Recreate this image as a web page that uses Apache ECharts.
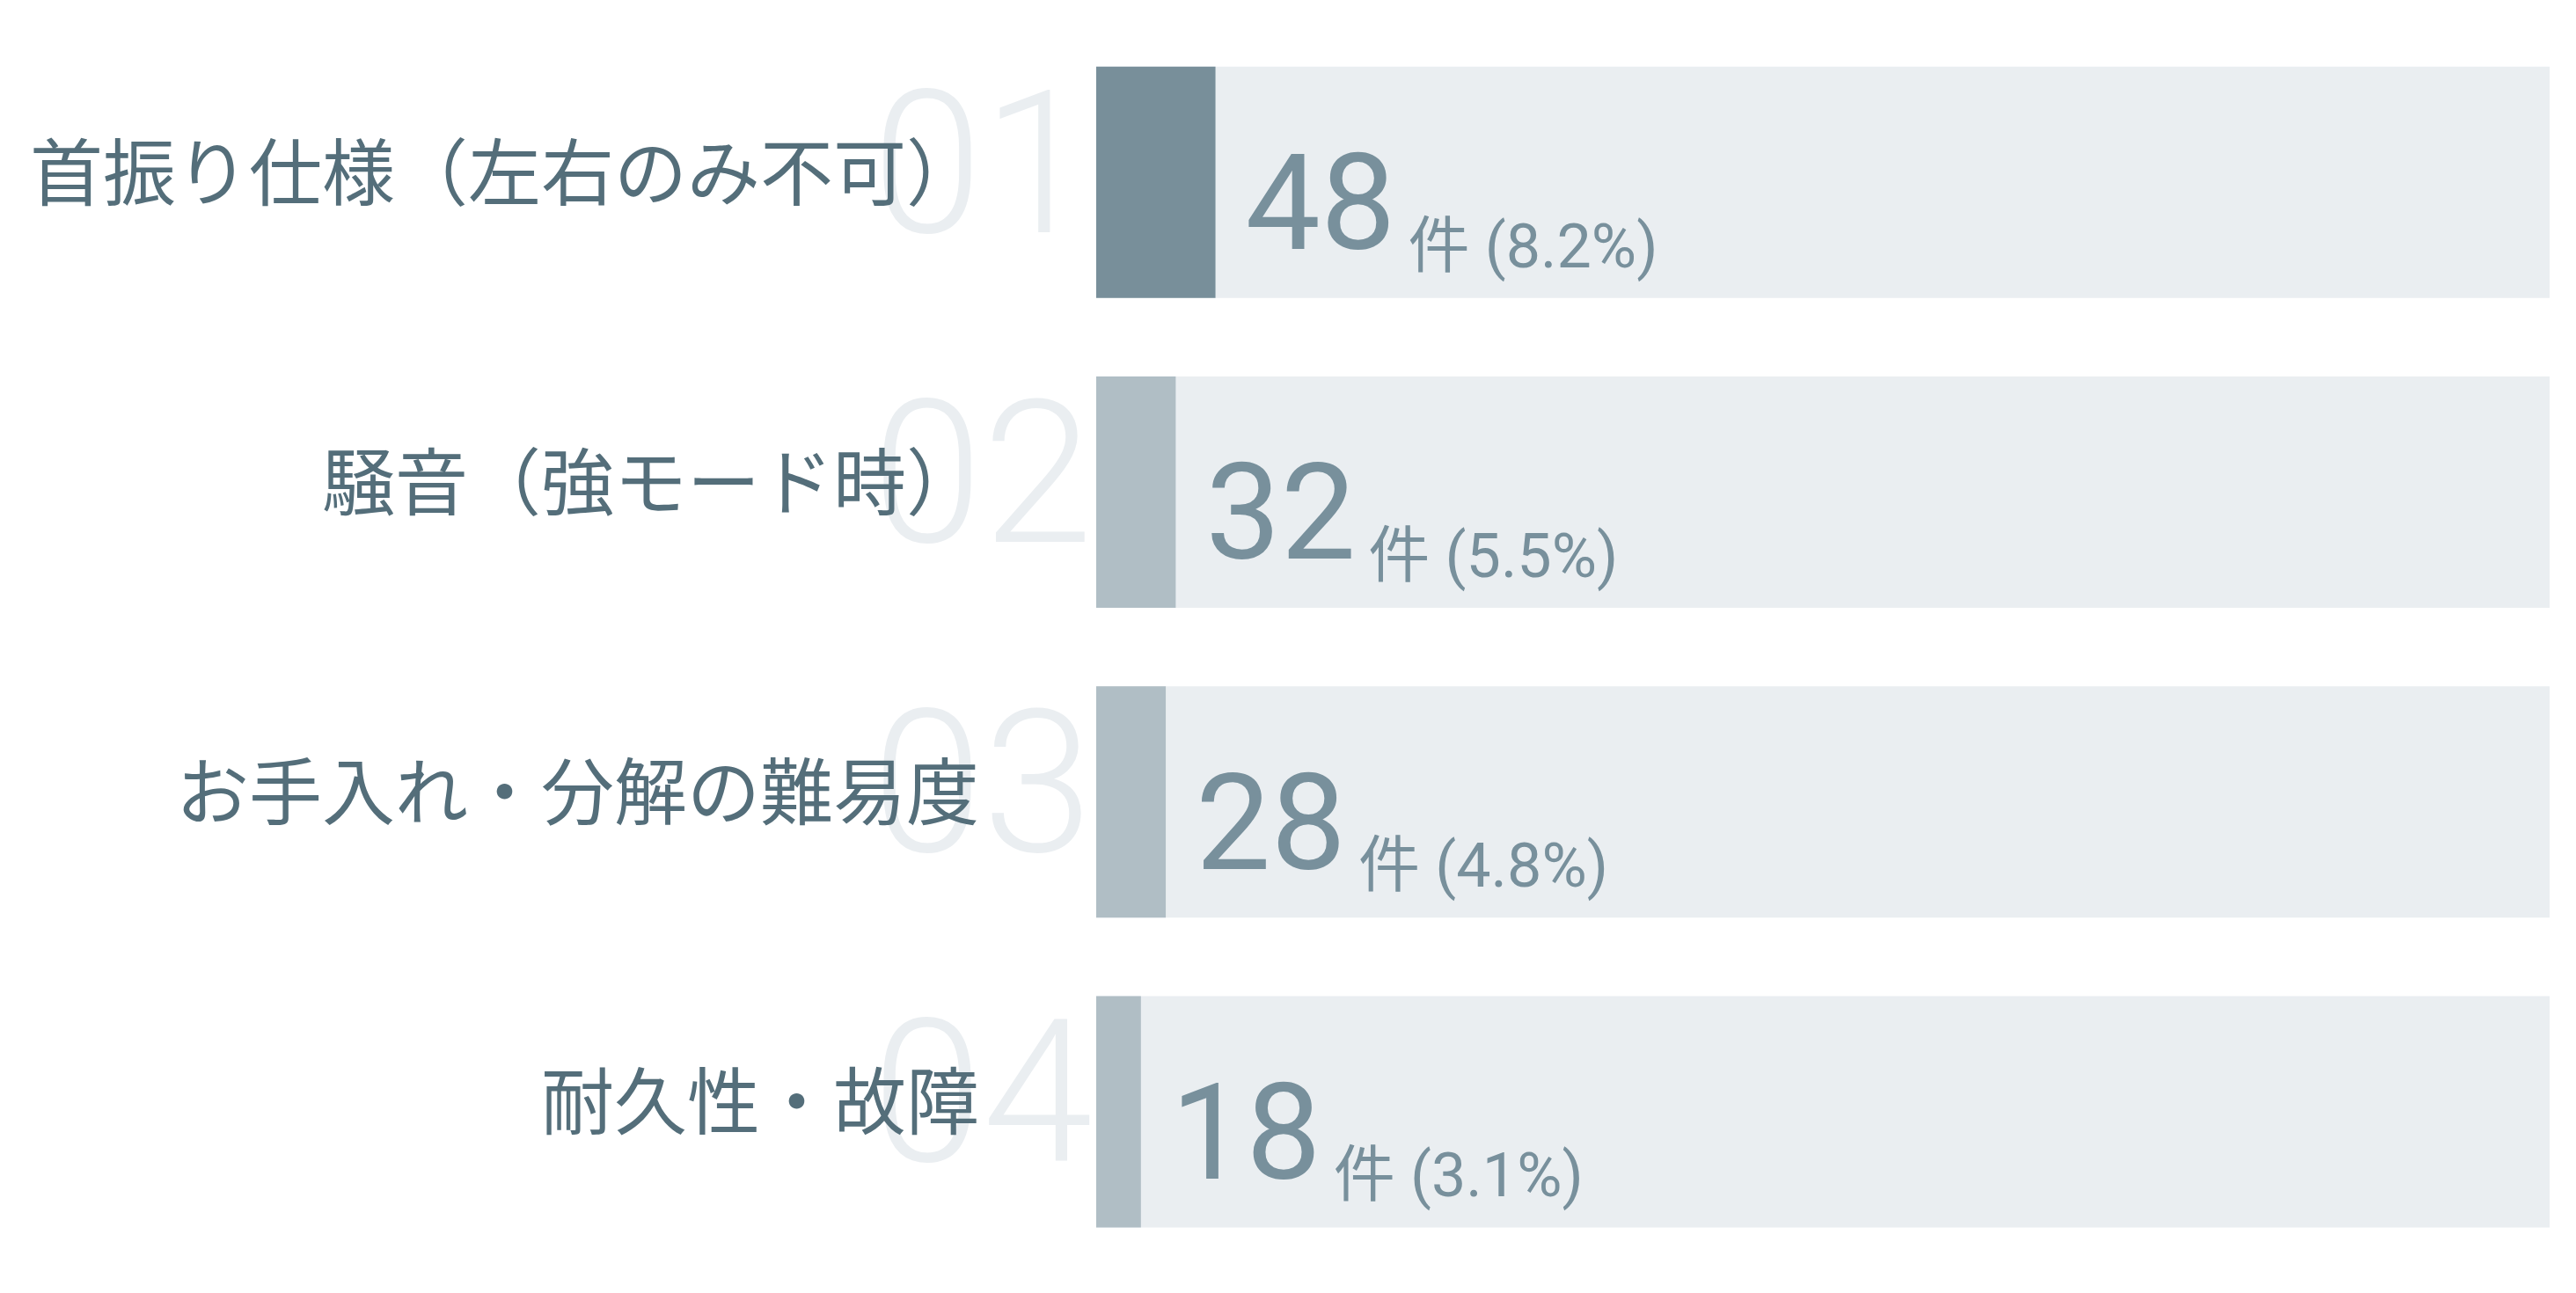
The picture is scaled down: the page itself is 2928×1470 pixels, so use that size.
<!DOCTYPE html>
<html>
<head>
<meta charset="utf-8">
<script src="https://cdn.jsdelivr.net/npm/echarts@6/dist/echarts.min.js"></script>
<style>
html,body{margin:0;padding:0;background:#ffffff;}
#chart{width:2928px;height:1470px;}
</style>
</head>
<body>
<div id="chart"></div>
<script>
const categories = ['首振り仕様（左右のみ不可）', '騒音（強モード時）', 'お手入れ・分解の難易度', '耐久性・故障'];
const rankLabels = ['01', '02', '03', '04'];
const counts = [48, 32, 28, 18];
const percents = [8.2, 5.5, 4.8, 3.1];
const totalCount = 585;

const chart = echarts.init(document.getElementById('chart'), null, {renderer: 'canvas'});

const barData = counts.map((v, i) => ({
  value: v,
  itemStyle: {color: i === 0 ? '#788f9a' : '#b0bec5'}
}));

const option = {
  backgroundColor: '#ffffff',
  animation: false,
  grid: {left: 1246, right: 30, top: 31, bottom: 30, containLabel: false},
  xAxis: {
    type: 'value', min: 0, max: totalCount,
    show: false
  },
  yAxis: [
    {
      type: 'category', data: categories, inverse: true, z: 3,
      axisLine: {show: false}, axisTick: {show: false}, splitLine: {show: false},
      axisLabel: {
        margin: 133, fontSize: 83, color: '#546e7a',
        fontFamily: '"Noto Sans CJK JP", sans-serif',
        verticalAlign: 'bottom', lineHeight: 24
      }
    },
    {
      type: 'category', data: rankLabels, inverse: true, position: 'left', z: 1,
      axisLine: {show: false}, axisTick: {show: false}, splitLine: {show: false},
      axisLabel: {
        margin: 4, fontSize: 226, color: '#eaeef1', fontWeight: 300,
        fontFamily: 'Roboto, "Noto Sans", sans-serif',
        padding: [0, 0, 40, 0]
      }
    }
  ],
  series: [{
    type: 'bar',
    yAxisIndex: 0,
    data: barData,
    barWidth: 263,
    showBackground: true,
    backgroundStyle: {color: '#eaeef1'},
    label: {
      show: true,
      position: 'right',
      distance: 34,
      offset: [0, 38],
      formatter: (p) => '{n|' + p.value + '}{s|件 (' + percents[p.dataIndex].toFixed(1) + '%)}',
      rich: {
        n: {fontSize: 152, color: '#78909c', fontFamily: 'Roboto, sans-serif', lineHeight: 152, verticalAlign: 'bottom'},
        s: {fontSize: 70, color: '#78909c', fontFamily: 'Roboto, "Noto Sans CJK JP", sans-serif', lineHeight: 72, verticalAlign: 'bottom', padding: [0, 0, 0, 14]}
      }
    }
  }]
};
chart.setOption(option);
</script>
</body>
</html>
